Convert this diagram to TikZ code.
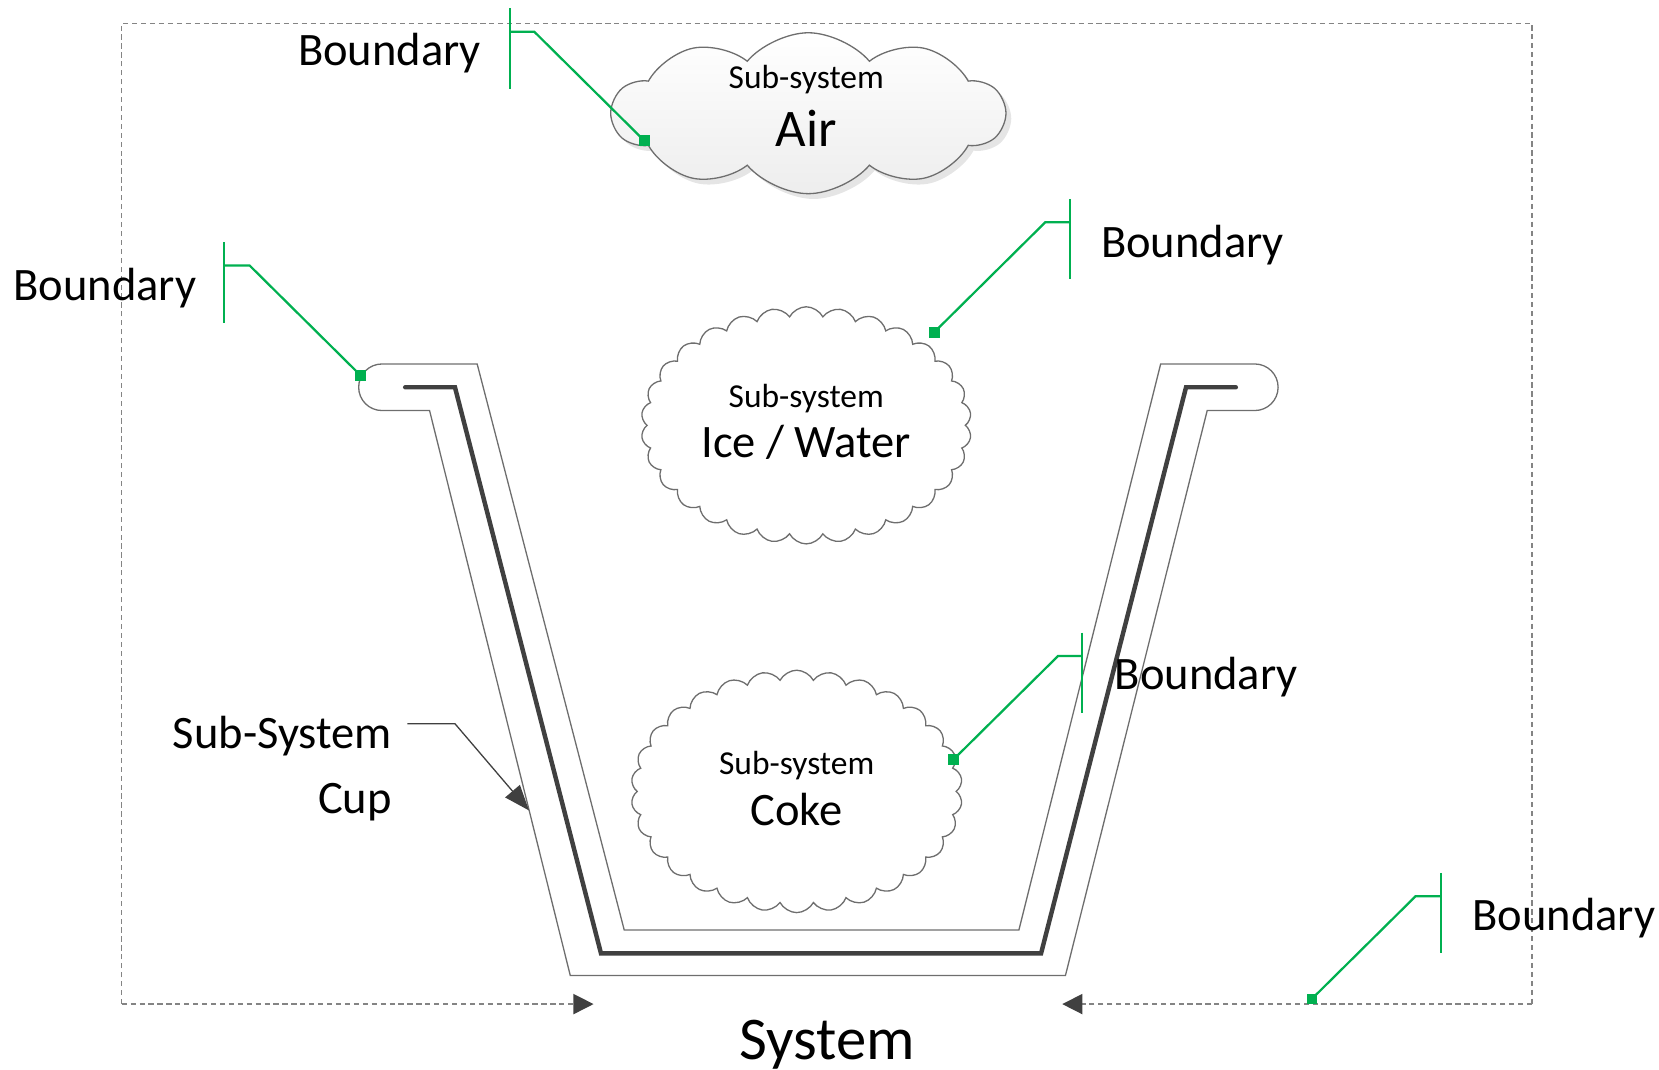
\documentclass[tikz,border=0pt]{standalone}
\usepackage{fontspec}
\setmainfont{Carlito}
\usetikzlibrary{shapes.symbols,shadows,arrows.meta}
\definecolor{bgreen}{HTML}{00B050}
\definecolor{dk}{HTML}{404040}
\definecolor{wall}{HTML}{6E6E6E}

\begin{document}
\begin{tikzpicture}[x=0.01cm,y=-0.01cm,
  bnd/.style={font=\fontsize{12.5}{14}\selectfont, inner sep=0pt},
  small/.style={font=\fontsize{9}{10}\selectfont, inner sep=0pt},
  gline/.style={draw=bgreen, line width=0.6pt},
  gsq/.style={fill=bgreen, minimum size=0.1cm, inner sep=0pt},
  sysframe/.style={draw=wall!85, dash pattern=on 1.4pt off 1pt, line width=0.4pt},
  cupwall/.style={draw=wall, line width=0.35pt, line join=miter},
  cupcore/.style={draw=dk, line width=1.2pt, line cap=round, line join=miter},
  puffy/.style={cloud, draw=wall, line width=0.35pt, cloud ignores aspect, inner sep=0pt},
  systip/.style={-{Triangle[length=0.19cm,width=0.19cm,fill=dk,color=dk]}}
]
\useasboundingbox (0,0) rectangle (1568,1011);

% system frame
\coordinate (fBL) at (115,949);
\coordinate (fTL) at (115,22);
\coordinate (fTR) at (1448,22);
\coordinate (fBR) at (1448,949);
\coordinate (sysL) at (561,949);
\coordinate (sysR) at (1004,949);
\draw[sysframe] (fBL) -- (fTL) -- (fTR) -- (fBR);
\draw[sysframe, systip] (fBL) -- (sysL);
\draw[sysframe, systip] (fBR) -- (sysR);
\node[font=\fontsize{16.3}{18}\selectfont, inner sep=0pt, anchor=base] (sys) at (782,1001) {System};

% cup: outer outline and core line
\draw[cupwall] (361,344) -- (451,344) -- (590,879) -- (963,879) -- (1097,344) -- (1186,344)
  arc[start angle=-90, end angle=90, radius=22] -- (1141,388) -- (1007,922) -- (539,922)
  -- (406,388) -- (361,388) arc[start angle=90, end angle=270, radius=22] -- cycle;
\draw[cupcore] (383,366) -- (430,366) -- (568,901) -- (984,901) -- (1121,366) -- (1168,366);

% sub-system clouds
\node[puffy, cloud puffs=10, cloud puff arc=100, minimum width=3.7cm, minimum height=1.52cm,
  top color=white, bottom color=gray!14,
  drop shadow={shadow xshift=0.05cm, shadow yshift=-0.05cm, fill=gray!40}] (air) at (764,107) {};
\node[small, anchor=base] (airs) at (762,84) {Sub-system};
\node[font=\fontsize{14.2}{16}\selectfont, inner sep=0pt, anchor=base] (airt) at (762,138) {Air};

\node[puffy, cloud puffs=30, cloud puff arc=125, minimum width=3.12cm, minimum height=2.24cm, fill=white] (ice) at (762,402) {};
\node[small, anchor=base] (ices) at (762,385) {Sub-system};
\node[bnd, anchor=base] (icet) at (762,432) {Ice / Water};

\node[puffy, cloud puffs=30, cloud puff arc=125, minimum width=3.13cm, minimum height=2.29cm, fill=white] (coke) at (753,748) {};
\node[small, anchor=base] (cokes) at (753,732) {Sub-system};
\node[bnd, anchor=base] (coket) at (753,780) {Coke};

% cup label with pointer
\node[bnd, anchor=base east] (cupa) at (371,707) {Sub-System};
\node[bnd, anchor=base east] (cupb) at (371,769) {Cup};
\coordinate (cp0) at (385,684);
\coordinate (cp1) at (430,684);
\coordinate (cptip) at (500,766);
\draw[dk, line width=0.35pt, -{Triangle[length=0.24cm,width=0.18cm,fill=dk]}] (cp0) -- (cp1) -- (cptip);

% boundary callouts
\foreach \n/\sx/\sy/\bx/\kx/\by/\lx/\ly in {
   1/609/133/482/505/30/281/62,
   2/341/355/212/236/251/12/284,
   3/883/314/1011/988/210/1040/243,
   4/901/718/1023/1000/620/1053/652,
   5/1240/944/1362/1338/847/1391/879} {
  \node[gsq] (sq\n) at (\sx,\sy) {};
  \coordinate (bt\n) at (\bx,\by-22);
  \coordinate (bb\n) at (\bx,\by+54);
  \coordinate (bm\n) at (\bx,\by);
  \coordinate (bk\n) at (\kx,\by);
  \draw[gline] (sq\n.center) -- (bk\n) -- (bm\n);
  \draw[gline] (bt\n) -- (bb\n);
  \node[bnd, anchor=base west] (lb\n) at (\lx,\ly) {Boundary};
}
\end{tikzpicture}
\end{document}
